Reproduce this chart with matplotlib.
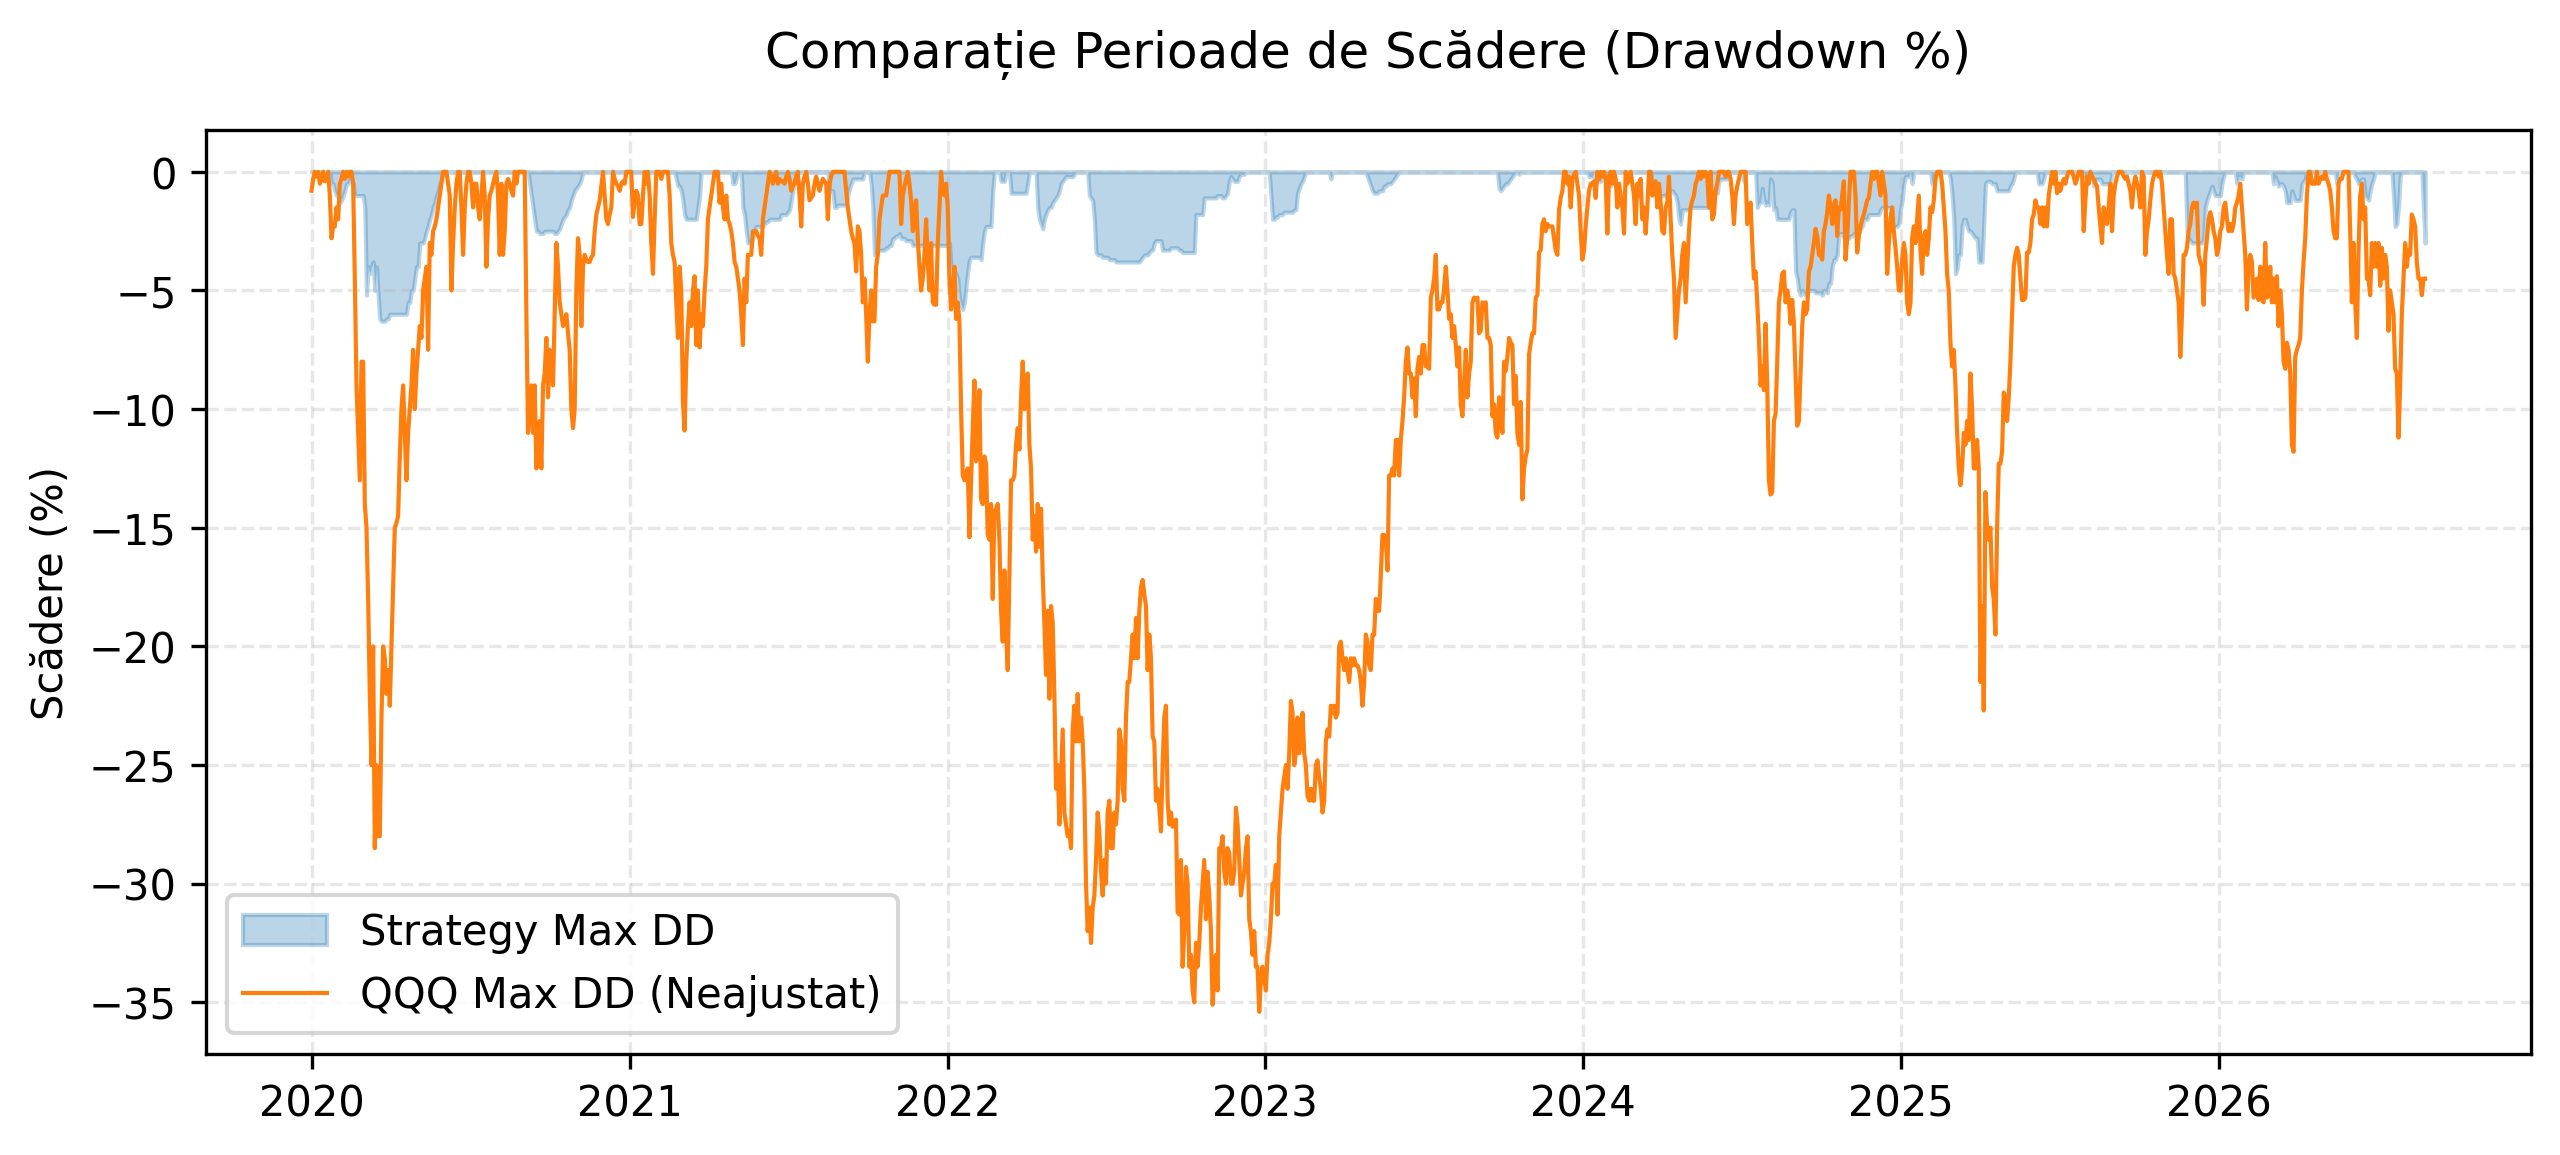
import matplotlib
matplotlib.use('Agg')
import matplotlib.pyplot as plt
import pandas as pd

# Sampling grid: regular calendar spacing between first and last observation
start_date = '2020-01-01'
end_date = '2026-08-26'

# ---- QQQ drawdown (%), in time order ----
qqq_2020 = [
    -0.8, -0.3, 0, -0.2, 0, -0.5, -0.3, 0, -0.4, -0.2, 0, -1.0,
    -2.8, -2.3, -2.3, -1.5, -2.0, -0.5, -0.3, 0, -0.3, 0, -0.2, 0, 0, -0.5,
    -4.5, -9.0, -11.0, -13.0, -8.0, -8.0, -14.0, -15.0, -18.0, -22.0, -25.0, -20.0, -28.5, -25.0, -28.0, -28.0,
    -23.0, -20.0, -20.5, -22.0, -21.0, -22.5, -20.0, -17.5, -15.0, -14.8, -14.5, -12.0, -10.0, -9.0, -11.0, -13.0, -11.0, -10.0, -9.0, -7.5,
    -10.0, -8.5, -7.5, -6.5, -7.0, -5.0, -4.5, -4.0, -7.5, -3.0, -3.5, -2.5, -2.3, -2.0, -1.5, -1.0, -0.5, 0, 0, 0,
    -0.5, -1.0, -5.0, -3.0, -1.5, -0.5, 0, 0, -1.5, -3.5, -1.5, -0.5, 0, 0, -0.5, -1.5, -0.5, -0.5, -1.5, -2.0,
    -1.0, 0, -1.0, -4.0, -2.0, -1.0, -0.8, -0.5, -0.2, 0, -1.0, -3.5, -0.5, -3.5, -2.5, -0.5, -0.3, -0.5, -0.8, -1.0,
    0, -0.5, 0, 0, 0, 0, 0, -6.0, -11.0, -10.0, -9.0, -11.0, -9.0, -12.5, -11.0, -10.5, -12.5, -9.0, -8.5, -7.0,
    -9.5, -7.5, -8.0, -9.0, -6.0, -3.0, -4.0, -5.5, -6.0, -6.5, -6.3, -6.0, -6.8, -7.5, -10.0, -10.8, -10.0, -5.0, -2.8, -3.5,
    -6.5, -4.0, -3.5, -3.7, -3.8, -3.8, -3.6, -3.5, -2.5, -1.8, -1.5, -1.2, -0.6, 0, -1.0, -2.0,
]
qqq_2021 = [
    -2.2, -1.8, -1.5, 0, -0.3, -0.5, -0.6, -0.8, -0.5, -0.4, -0.5, 0, 0, 0, 0, -1.9,
    -1.2, -0.8, -1.0, -2.2, -2.2, -1.0, 0, -0.5, 0, -1.0, -3.0, -4.3, -2.0, 0, 0, 0, -0.3, 0, 0, 0,
    0, -1.0, -3.0, -3.5, -3.8, -5.5, -7.0, -4.0, -5.0, -9.7, -10.9, -8.0, -6.5, -5.5, -6.5, -5.0, -4.4, -7.3, -5.0, -7.4,
    -6.0, -6.5, -5.0, -4.0, -2.0, -1.5, -1.0, -0.5, 0, 0, 0, -1.3, -0.5, -1.5, -2.0, -1.0, -2.0, -2.2, -2.5, -3.0,
    -3.8, -4.0, -4.5, -5.0, -6.0, -7.3, -4.5, -5.5, -3.5, -3.5, -3.5, -2.5, -2.5, -2.5, -2.7, -2.8, -3.5, -2.0, -1.5, -1.0,
    -0.5, 0, -0.2, -0.5, -0.2, 0, -0.5, -0.3, -0.4, -0.4, -0.5, -0.2, 0, -0.3, -0.8, -0.6, -0.5, -0.2, 0, -1.0,
    -2.3, -0.5, -0.2, 0, -0.5, -1.2, -1.1, -1.0, -0.5, -0.2, -0.5, -0.8, -0.5, -0.3, -0.4, -0.5, -2.0, -0.5, -0.2, 0,
    0, 0, 0, 0, 0, 0, 0, -0.8, -1.5, -2.0, -2.5, -2.8, -3.0, -4.2, -2.3, -2.5, -3.5, -5.5, -4.5, -6.0,
    -8.0, -6.0, -5.0, -6.3, -6.3, -4.0, -3.5, -2.0, -1.5, -1.0, -1.0, -1.0, -0.5, 0, 0, 0, 0, 0, 0, 0,
]
qqq_2022 = [
    -2.2, -1.0, -0.6, -0.3, 0, -0.5, -1.2, -2.5, -1.8, -1.2, -2.8, -4.0, -5.0, -4.5, -3.5, -2.0, -3.8, -5.0, -3.0, -5.5,
    -5.6, -5.6, -3.0, -1.5, 0, -0.8, -1.0, -0.5, -1.5, -4.5, -5.8, -5.0, -4.0, -6.2, -5.5, -6.3, -10.0, -12.8, -13.0, -12.7,
    -12.5, -15.4, -13.0, -10.8, -8.8, -12.2, -11.5, -9.2, -13.8, -14.0, -12.0, -12.3, -15.3, -15.5, -14.0, -18.0, -14.3, -14.2, -14.0, -15.5,
    -18.5, -19.8, -16.8, -19.3, -21.0, -17.0, -13.0, -13.0, -12.8, -11.5, -10.8, -11.7, -9.5, -8.0, -10.0, -9.0, -8.5, -11.5, -12.5, -15.5,
    -14.5, -16.0, -14.0, -15.8, -14.2, -17.0, -19.0, -21.2, -18.5, -22.2, -18.3, -19.0, -22.0, -26.0, -25.0, -27.5, -25.5, -23.5, -27.0, -27.5,
    -28.0, -27.8, -28.5, -23.5, -22.5, -24.0, -22.0, -24.0, -23.0, -24.0, -26.0, -30.0, -32.0, -31.0, -32.5, -31.0, -30.5, -29.0, -27.0, -27.8,
    -29.5, -30.5, -29.0, -30.0, -27.0, -26.5, -28.5, -28.5, -27.0, -27.5, -26.5, -23.5, -24.0, -26.0, -26.5, -23.0, -21.5, -21.5, -20.5, -19.5,
    -20.5, -18.8, -20.5, -18.5, -17.5, -17.2, -17.8, -18.3, -21.0, -19.5, -20.5, -23.8, -24.0, -26.5, -26.0, -26.8, -27.8, -25.0, -23.0, -22.5,
    -26.5, -27.5,
]
qqq_2023 = [
    -27.0, -27.6, -27.5, -27.3, -31.2, -31.3, -29.0, -33.5, -32.0, -29.3, -30.0, -33.5, -33.0, -34.5, -35.0, -32.5, -33.5, -32.5, -31.0, -30.0,
    -29.0, -31.5, -29.5, -30.5, -32.0, -35.1, -34.0, -33.0, -34.5, -28.5, -28.5, -28.0, -29.5, -30.0, -28.5, -28.7, -30.0, -30.0, -29.5, -26.8,
    -27.5, -29.0, -30.5, -30.0, -29.5, -28.5, -28.0, -31.5, -32.0, -33.0, -32.0, -33.5, -33.5, -35.4, -34.0, -33.5, -34.0, -34.5, -33.0, -32.5,
    -31.5, -30.0, -30.0, -29.2, -31.3, -28.0, -27.0, -26.0, -25.5, -25.0, -26.0, -24.5, -22.3, -22.8, -25.0, -24.5, -23.0, -24.5, -24.0, -22.8,
    -24.5, -25.0, -26.3, -26.5, -26.0, -26.5, -26.5, -25.0, -24.8, -25.5, -26.0, -27.0, -26.5, -24.0, -23.5, -23.8, -22.5, -22.8, -22.5, -23.0,
    -22.8, -20.0, -19.8, -20.5, -21.0, -20.5, -21.0, -21.5, -20.5, -20.8, -20.5, -20.8, -20.8, -21.0, -21.5, -22.5, -21.5, -19.5, -19.8, -20.8,
    -21.0, -19.5, -19.5, -18.0, -18.5, -18.5, -17.0, -15.3, -15.3, -15.5, -16.8, -12.8, -12.8, -12.5, -12.8, -11.3, -11.3, -12.8, -11.3, -10.5,
    -9.5, -8.0, -7.4, -8.5, -8.5, -9.5, -8.7, -10.3, -8.3, -7.8, -8.5, -7.3, -7.3, -8.2, -8.2, -8.3, -5.3, -5.0, -4.5, -3.5,
    -5.8, -5.8, -5.5, -5.5, -4.9, -4.0, -5.0, -6.2, -6.0, -7.0, -6.5, -7.3, -8.2,
]
qqq_2024 = [
    -7.4, -9.8, -10.3, -9.0, -7.5, -9.5, -8.5, -8.0, -5.5, -5.3, -5.4, -5.3, -6.8, -6.7, -5.5, -5.6, -5.5, -7.0, -7.0, -7.3,
    -10.3, -9.8, -11.0, -11.2, -9.5, -10.3, -11.0, -8.0, -8.4, -7.8, -7.0, -7.2, -7.3, -9.8, -8.6, -11.0, -11.5, -9.7, -13.8, -12.5,
    -12.0, -11.7, -7.7, -7.2, -6.8, -6.8, -5.3, -5.2, -3.4, -3.3, -2.2, -2.0, -2.5, -2.2, -2.3, -2.3, -2.3, -2.8, -3.3, -3.5,
    -1.6, -1.1, -0.8, 0, 0, -0.5, -0.2, -1.5, -0.3, -0.1, 0, -0.5, -1.0, -2.5, -3.7, -3.3, -2.3, -1.5, -0.8, -0.5,
    -0.5, -0.4, -1.1, 0, -0.3, 0, -0.2, 0, -0.3, -2.6, -0.2, 0, -0.5, 0, -0.3, -1.5, -0.5, -1.0, -1.5, -2.6,
    0, -0.5, -0.3, 0, -0.5, -1.0, -2.2, -0.5, -1.0, -0.3, -2.0, -1.5, -2.6, -1.5, 0, 0, -1.0, -0.5, -0.4, -1.5,
    -0.5, -1.3, -2.5, -2.6, -1.5, -1.3, -0.2, -2.0, -3.5, -4.5, -7.0, -6.0, -5.0, -4.5, -3.5, -3.0, -5.5, -4.0, -2.5, -1.5,
    -1.2, -1.0, -0.5, -0.3, 0, -0.3, 0, -0.2, 0, -0.2, -1.5, 0, -2.0, -1.8, -0.8, -0.5, 0, 0, 0, 0,
    -0.2, 0, 0, -0.3, -1.0, -2.2, -1.0, -0.6, -0.3, 0, 0, 0, 0, -2.2,
]
qqq_2025 = [
    -1.8, -1.3, -3.0, -4.5, -4.2, -5.5, -7.0, -9.0, -8.2, -9.2, -6.4, -9.0, -13.0, -13.6, -13.5, -10.5, -10.2, -8.0, -5.5, -5.0,
    -4.3, -4.2, -5.5, -5.0, -5.4, -6.4, -5.4, -6.4, -8.5, -10.7, -10.5, -8.5, -6.5, -5.5, -6.0, -5.8, -4.2, -4.0, -3.5, -3.0,
    -2.4, -2.7, -3.5, -3.5, -3.7, -2.5, -2.2, -1.7, -1.0, -1.4, -2.2, -1.4, -1.2, -2.7, -1.5, -1.6, -1.0, -0.4, -3.7, -2.8,
    -1.3, 0, 0, 0, -1.0, -3.4, -2.7, -2.3, -2.0, -1.8, -1.5, -1.2, -1.1, -0.5, 0, -0.3, 0, 0, -0.5, -1.0,
    0, -0.5, -1.0, -4.3, -3.0, -2.0, -1.5, -2.5, -3.2, -4.0, -5.0, -5.0, -3.7, -3.0, -3.5, -5.5, -6.0, -5.5, -2.8, -2.3,
    -3.0, -2.0, -1.0, -3.3, -4.3, -2.7, -2.5, -3.5, -2.8, -1.5, -1.7, -1.2, -0.3, 0, 0, 0, -0.5, -1.5, -2.5, -4.3,
    -5.0, -7.2, -8.2, -7.5, -9.0, -11.0, -12.5, -13.2, -12.5, -11.0, -11.5, -10.5, -11.3, -8.5, -10.0, -12.5, -12.5, -11.3, -12.5, -21.5,
    -18.3, -22.7, -13.5, -15.0, -15.5, -15.0, -17.5, -18.0, -19.5, -15.0, -12.3, -12.3, -11.8, -9.3, -9.5, -10.5, -9.5, -8.0, -6.0, -4.0,
    -3.5, -3.2, -3.5, -4.5, -5.4, -5.4, -5.3, -3.4, -3.4, -3.0, -2.0, -1.8, -1.2, -1.5,
]
qqq_2026 = [
    -1.5, -2.2, -1.5, -2.3, -1.5, -2.3, -1.0, -0.5, 0, -0.5, 0, -0.9, -0.5, -0.8, -0.5, -0.3, -0.5, -0.2, 0, 0,
    0, -0.2, -0.5, -0.3, 0, 0, 0, -2.5, -1.2, -0.2, -0.5, 0, -0.2, -0.3, -0.5, -0.6, -1.5, -2.3, -3.0, -1.5,
    -2.0, -2.2, -1.5, -0.5, -2.5, -1.0, -0.5, -0.2, 0, 0, 0, -0.2, -0.3, -0.2, -0.5, -0.8, -1.5, -0.6, -0.2, -0.5,
    -0.8, -1.5, 0, -0.2, -3.5, -2.5, -2.0, -1.2, -0.5, -0.2, 0, 0, -0.2, 0, -0.5, -1.5, -2.5, -3.5, -4.3, -2.0,
    -2.0, -4.3, -4.5, -5.0, -5.5, -7.8, -6.0, -3.5, -3.5, -3.2, -2.5, -2.2, -1.5, -1.3, -1.5, -1.3, -3.5, -3.8, -4.0, -5.6,
    -3.5, -2.8, -2.0, -1.7, -2.0, -2.5, -2.8, -3.5, -3.2, -2.5, -2.3, -1.5, -1.3, -2.0, -2.5, -2.2, -2.5, -2.2, -1.5, -1.3,
    -1.0, -0.5, -1.5, -2.5, -3.5, -5.8, -4.0, -3.5, -3.8, -5.3, -5.2, -4.5, -5.4, -4.0, -5.4, -5.5, -3.0, -5.3, -5.2, -4.0,
    -5.5, -4.5, -5.5, -4.4, -6.5, -5.0, -6.0, -8.0, -8.3, -7.2, -7.5, -8.5, -11.5, -11.8, -7.8, -7.5, -7.3, -7.0, -5.0, -3.8,
    -2.8, -1.0, 0, 0, -0.5, -0.5, -0.5, 0, -0.5, -0.3, -0.2, -0.3, 0, -0.3, -0.5, -0.8, -1.5, -2.5, -2.8, -2.8,
    -0.5, -0.3, -0.3, 0, 0, 0, 0, -2.5, -5.5, -3.0, -5.5, -7.0, -3.3, -1.0, -0.5, -2.0, -1.5, -4.5, -4.5, -5.2,
    -3.0, -4.0, -3.0, -4.0, -3.0, -4.8, -3.2, -4.5, -3.5, -4.0, -6.7, -5.0, -5.5, -6.0, -8.3, -8.5, -11.2, -9.0, -6.0, -4.5,
    -3.0, -4.0, -3.3, -3.5, -1.8, -2.0, -2.3, -3.8, -4.5, -4.5, -5.2, -4.5, -4.5,
]

# ---- Strategy drawdown (%), same time grid ----
strat_2020 = [
    0, 0, 0, 0, 0, 0, 0, 0, 0, 0, 0, 0,
    -0.5, -0.5, -0.8, -1.0, -1.0, -1.3, -1.2, -1.0, -0.8, -0.5, -0.5, -0.3, -0.3, -0.5, -1.0, -1.0, -1.0, -1.0, -1.0, -1.0,
    -1.5, -5.2, -4.0, -4.3, -4.0, -3.8, -5.0, -4.0, -5.2, -6.2, -6.3, -6.3, -6.3, -6.2, -6.2, -6.0, -6.0, -6.0, -6.0, -6.0,
    -6.0, -6.0, -6.0, -6.0, -6.0, -6.0, -5.5, -5.5, -5.0, -5.0, -4.5, -4.0, -4.0, -3.0, -3.0, -3.0, -2.8, -2.5, -2.3, -2.0,
    -1.8, -1.5, -1.3, -1.0, -0.8, -0.5, -0.3, 0,
    0, 0, 0, 0, 0, 0, 0, 0, 0, 0,
    0, 0, 0, 0, 0, 0, 0, 0, 0, 0,
    0, 0, 0, 0, 0, 0, 0, 0, 0, 0,
    0, 0, 0, 0, 0, 0, 0, 0, 0, 0,
    0, 0, 0, 0, 0, 0, 0, 0, 0, 0,
    0,
    -0.5, -1.0, -1.5, -2.0, -2.5, -2.5, -2.6, -2.6, -2.6, -2.5, -2.5, -2.5, -2.5, -2.5, -2.5, -2.6, -2.6, -2.5, -2.4, -2.2,
    -2.0, -1.9, -1.8, -1.6, -1.5, -1.2, -1.0, -0.8, -0.7, -0.6, -0.5, -0.3, 0,
    0, 0, 0, 0, 0, 0, 0, 0, 0, 0, 0, 0, 0, 0,
]
strat_2021 = [
    0, 0, 0, 0, 0, 0, 0, 0, 0, 0,
    0, 0, 0, 0, 0, 0, 0, 0, 0, 0,
    0, 0, 0, 0, 0, 0, 0, 0, 0, 0,
    0, 0, 0, 0, 0, 0, 0, 0, 0, 0,
    0,
    -0.3, -0.6, -0.6, -0.8, -1.2, -1.8, -2.0, -2.0, -2.0, -2.0, -2.0, -2.0, -2.0, -1.5, -1.0, 0,
    0, 0, 0, 0, 0, 0, 0, 0, 0, 0, 0, 0, 0, 0, 0, 0, 0, 0,
    -0.5, -0.5, -0.3, 0, 0, 0, -1.5, -1.8, -2.5, -3.0, -3.0, -3.0, -2.8, -2.5, -2.3, -2.3, -2.3, -2.3, -2.3, -2.2,
    -2.1, -2.1, -2.0, -2.0, -2.0, -2.0, -2.0, -2.0, -2.0, -1.8, -1.8, -1.8, -1.8, -1.7, -1.6, -1.2, -0.8, -0.4, 0,
    0, 0, 0, 0, 0, 0, 0, 0, 0, 0, 0, 0, 0, 0, 0, 0, 0, 0, 0,
    -0.8, -0.8, -0.8, -1.5, -1.5, -1.4, -1.4, -1.4, -1.4, -1.4, -1.4, -1.0, -0.7, -0.5, -0.3, -0.3, -0.3, -0.3, -0.3, -0.3,
    -0.3, 0, 0, 0, 0, -0.5, -1.5, -3.5, -3.4, -3.3, -3.3, -3.3, -3.3, -3.3, -3.2, -3.2, -3.1, -3.1, -2.8, -2.8, -2.7, -2.7, -2.6,
]
strat_2022 = [
    -2.8, -2.8, -2.8, -2.9, -2.9, -2.9, -2.9, -3.1, -3.1, -3.1, -3.1, -3.1, -3.1, -3.1, -3.1, -3.1, -3.1, -3.1, -3.1, -3.1,
    -3.1, -3.1, -3.1, -3.1, -3.1, -3.1, -3.1, -3.1, -3.1, -3.0, -4.0, -4.0, -4.2, -4.3, -4.5, -5.3, -5.6, -5.8, -5.5, -4.8,
    -4.2, -3.7, -3.6, -3.6, -3.6, -3.6, -3.6, -3.6, -3.7, -3.0, -2.5, -2.3, -2.3, -2.3, -2.3, -0.8, 0, 0, 0, 0,
    -0.4, -0.4, -0.4, 0, 0, 0, -0.9, -0.9, -0.9, -0.9, -0.9, -0.9, -0.9, -0.9, -0.9, -0.9, -0.5, 0, 0, 0,
    0, 0, -1.5, -2.0, -2.2, -2.4, -2.0, -1.8, -1.6, -1.5, -1.5, -1.3, -1.2, -1.1, -1.0, -0.8, -0.5, -0.4, -0.3, -0.2,
    -0.2, -0.2, -0.2, -0.2, -0.1, 0, 0, 0, 0, 0, 0, 0, 0, -1.0, -1.1, -1.2, -2.0, -3.4, -3.5, -3.5,
    -3.5, -3.6, -3.6, -3.6, -3.6, -3.7, -3.7, -3.7, -3.7, -3.8, -3.8, -3.8, -3.8, -3.8, -3.8, -3.8, -3.8, -3.8, -3.8, -3.8,
    -3.8, -3.8, -3.8, -3.8, -3.7, -3.6, -3.5, -3.5, -3.5, -3.4, -3.3, -3.3, -3.0, -2.9, -2.9, -2.9, -2.9, -3.3, -3.3, -3.3,
    -3.3, -3.3,
]
strat_2023 = [
    -3.2, -3.2, -3.2, -3.2, -3.2, -3.3, -3.3, -3.4, -3.4, -3.4, -3.4, -3.4, -3.4, -3.4, -3.4, -1.8, -1.8, -1.8, -1.8, -1.8,
    -1.1, -1.1, -1.1, -1.1, -1.1, -1.1, -1.1, -1.1, -1.0, -1.0, -1.0, -1.1, -1.1, -1.0, -0.9, -0.4, -0.2, -0.3, -0.4, -0.4,
    -0.4, -0.2, -0.1, -0.1, -0.1, 0,
    0, 0, 0, 0, 0, 0, 0, 0, 0, 0, 0, 0, 0, 0,
    -1.0, -2.0, -2.0, -1.9, -1.9, -1.8, -1.8, -1.8, -1.7, -1.7, -1.7, -1.7, -1.7, -1.7, -1.6, -1.6, -0.9, -0.7, -0.5, -0.4, -0.2, 0,
    0, 0, 0, 0, 0, 0, 0, 0, 0, 0, 0, 0, 0, 0,
    -0.3,
    0, 0, 0, 0, 0, 0, 0, 0, 0, 0, 0, 0, 0, 0, 0, 0, 0, 0, 0, 0, 0,
    -0.2, -0.4, -0.6, -0.8, -0.9, -0.9, -0.9, -0.8, -0.8, -0.8, -0.6, -0.6, -0.5, -0.5, -0.5, -0.4, -0.3, -0.2, -0.1, 0,
    0, 0, 0, 0, 0, 0, 0, 0, 0, 0,
    0, 0, 0, 0, 0, 0, 0, 0, 0, 0,
    0, 0, 0, 0, 0, 0, 0, 0, 0, 0,
    0, 0, 0, 0, 0,
]
strat_2024 = [
    0, 0, 0, 0, 0, 0, 0, 0, 0, 0, 0, 0, 0, 0, 0, 0, 0, 0, 0, 0, 0, 0, 0, 0,
    -0.7, -0.8, -0.7, -0.6, -0.5, -0.5, -0.4, -0.3, -0.2, -0.1, 0, 0, -0.1,
    0, 0, 0, 0, 0, 0, 0, 0, 0, 0,
    0, 0, 0, 0, 0, 0, 0, 0, 0, 0,
    0, 0, 0, 0, 0, 0, 0, 0, 0, 0,
    0, 0, 0, 0, 0, 0, 0, 0, 0, 0,
    0,
    -0.2, -0.2, -0.2, 0, -0.4, -0.4, -0.4, -0.4, -0.2, -0.2, -0.2, -0.2, -0.2, -0.6,
    0, 0, 0, 0, 0, 0, 0, 0, 0, 0, 0, 0, 0, 0, 0, 0, 0, 0, 0, 0, 0, 0, 0, 0,
    -0.6, -0.6, -0.6, -0.6, -1.2, -1.0, -1.0, -1.0, -1.0, -0.9, -0.8, -0.8, -0.8, -0.9, -1.0, -1.3, -2.0, -2.2, -1.6, -1.6,
    -1.6, -1.6, -1.6, -1.5, -1.5, -1.5, -1.5, -1.5, -1.5, -1.5, -1.5, -1.5, -1.5, -1.5, -1.5, -1.2, -0.9, -0.9, -0.9, -0.9,
    -0.4, -0.3, -0.3, -0.3, -0.3, -0.3, 0,
    0, 0, 0, 0, 0, 0, 0, 0,
    -0.4, 0, 0,
]
strat_2025 = [
    0, 0, 0, 0, 0, -1.5, -1.3, -1.3, -0.7, -1.2, -1.4, -1.3, -1.4, -0.3, -0.5, -1.6, -1.5, -2.0, -2.0, -2.0,
    -2.0, -2.0, -2.0, -2.0, -2.0, -1.7, -1.6, -1.6, -4.2, -4.5, -5.0, -5.2, -5.0, -5.1, -5.2, -5.1, -5.0, -5.0, -5.0, -5.0,
    -5.1, -5.1, -5.1, -5.1, -5.2, -5.0, -5.0, -5.1, -4.7, -4.7, -4.0, -3.7, -3.7, -3.5, -2.6, -2.6, -2.6, -2.8, -2.8, -2.8,
    -2.8, -2.7, -2.7, -2.6, -2.6, -2.5, -2.5, -2.4, -2.3, -2.0, -2.0, -2.0, -1.8, -1.8, -1.8, -1.8, -1.8, -1.8, -1.8, -1.6,
    -1.5, -1.5, -1.5, -1.5, -1.5, -1.5, -2.4, -2.3, -2.3, -2.3, -2.2, -1.6, -1.2, -0.5, -0.2, -0.2, -0.2, 0, -0.5, 0,
    0, 0, 0, 0, 0, 0, 0, 0, 0, 0,
    -0.5, -0.5,
    0, 0, 0, 0, 0, 0, 0, 0, 0,
    -0.3, -1.0, -2.0, -4.3, -4.1, -3.5, -3.5, -2.3, -2.0, -2.0, -2.3, -2.5, -2.5, -2.6, -2.7, -2.8, -2.8, -3.8, -3.8, -3.8,
    -2.2, -0.5, -0.4, -0.4, -0.4, -0.5, -0.5, -0.5, -0.8, -0.8, -0.8, -0.8, -0.8, -0.8, -0.8, -0.8, -0.6, -0.5, -0.3, 0,
    0, 0, 0, 0, 0, 0, 0, 0, 0, 0, 0, 0, 0,
]
strat_2026 = [
    -0.5, -0.5, -0.5, -0.3, 0,
    0, 0, 0, 0, 0, 0, 0, 0, 0, 0, 0, 0, 0, 0, 0, 0, 0, 0, 0, 0, 0, 0, 0,
    -0.2, -0.2, -0.2, -0.2, -0.2, -0.6, -0.4, -0.3, -0.3, -0.3, -0.5, -0.5, -0.5, -0.5, -0.5, -0.5, 0,
    0, 0, 0, 0, 0, 0, 0, 0, 0, 0,
    0, 0, 0, 0, 0, 0, 0, 0, 0, 0,
    0, 0, 0, 0, 0, 0, 0, 0, 0, 0,
    0, 0, 0, 0, 0, 0, 0, 0, 0, 0,
    0, 0, 0, 0,
    -2.5, -2.8, -2.9, -3.0, -3.0, -3.0, -3.0, -3.0, -3.0, -3.0, -2.8, -1.5, -1.2, -1.0, -0.8, -0.6, -0.8, -1.0, -1.0, -1.0, -1.0, -0.5, -0.2,
    0, 0, 0, 0, 0, 0, 0,
    -0.5, -0.2, -0.2, -0.3,
    0, 0, 0, 0, 0, 0, 0, 0, 0, 0, 0, 0, 0, 0, 0, 0, 0, 0,
    -0.5, -0.2, -0.4, -0.6, -0.5, -0.5, -0.6, -0.8, -1.3, -1.3, -1.3, -0.8, -1.0, -1.2, -1.2, -1.2, -1.2, -0.5, -0.4, -0.3,
    0, 0, 0, 0, 0, 0, 0, 0, 0, 0, 0, 0, 0, 0, 0, 0, 0, 0,
    -0.5,
    0, 0, 0, 0, 0, 0, 0, 0, 0, 0,
    -0.2, -0.3, -0.5, -0.4, -0.3, -0.3, -1.0, -1.1, -1.2, -0.8, -0.5, -0.3,
    0, 0, 0, 0, 0, 0, 0, 0, 0, 0, 0,
    -1.0, -2.3, -2.2, -1.5, -0.2,
    0, 0, 0, 0, 0, 0, 0, 0, 0, 0, 0, 0, 0,
    -1.5, -3.0,
]

qqq_dd = qqq_2020 + qqq_2021 + qqq_2022 + qqq_2023 + qqq_2024 + qqq_2025 + qqq_2026
strategy_dd = (strat_2020 + strat_2021 + strat_2022 + strat_2023
               + strat_2024 + strat_2025 + strat_2026)

n = min(len(qqq_dd), len(strategy_dd))
dates = pd.date_range(start_date, end_date, periods=n)

fig, ax = plt.subplots(figsize=(10, 4))
ax.fill_between(dates, strategy_dd[:n], 0, color='C0', alpha=0.3,
                label='Strategy Max DD')
ax.plot(dates, qqq_dd[:n], color='C1', linewidth=1,
        label='QQQ Max DD (Neajustat)')
ax.set_title('Comparație Perioade de Scădere (Drawdown %)', pad=15)
ax.set_ylabel('Scădere (%)')
ax.grid(True, linestyle='--', alpha=0.3)
ax.legend(loc='lower left')
fig.savefig('out.png', dpi=300, bbox_inches='tight')
